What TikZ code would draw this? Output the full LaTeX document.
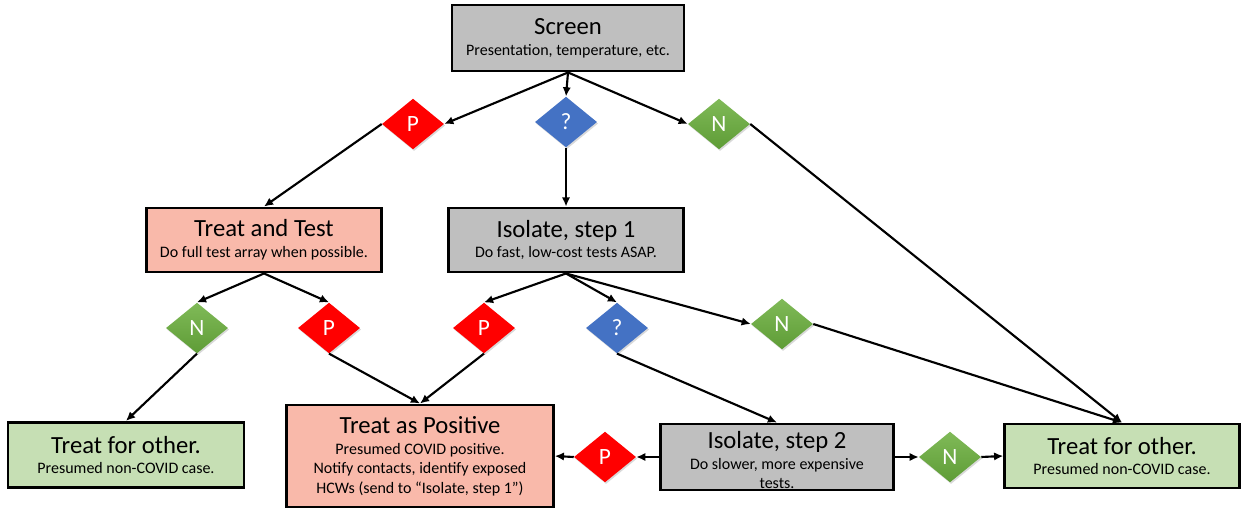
\documentclass[tikz,border=0pt]{standalone}
\usepackage{fontspec}
\setmainfont{Carlito}
\usepackage{xcolor}
\usepackage{tikz}
\usetikzlibrary{arrows.meta,positioning,shapes.geometric,shadows}
\definecolor{boxgray}{HTML}{BFBFBF}
\definecolor{boxsalmon}{HTML}{F9B9AA}
\definecolor{boxgreen}{HTML}{C6DFB4}
\definecolor{decred}{HTML}{FF0000}
\definecolor{decblue}{HTML}{4472C4}
\definecolor{decgreentop}{HTML}{80BA58}
\definecolor{decgreenbot}{HTML}{5E9C36}
\newcommand{\headtxt}[1]{{\fontsize{18.5}{21}\selectfont #1}\\[1pt]}

\begin{document}
\begin{tikzpicture}[x=0.75pt, y=-0.75pt,
    stepbox/.style={draw, line width=2.2pt, align=center, inner sep=1pt, font=\fontsize{12}{14.6}\selectfont},
    dec/.style={diamond, minimum width=46.5pt, minimum height=38pt, inner sep=0pt, text=white, font=\fontsize{17.5}{17.5}\selectfont, drop shadow={opacity=0.3, shadow xshift=0.8pt, shadow yshift=-1.2pt}},
    decp/.style={dec, fill=decred},
    decq/.style={dec, fill=decblue},
    decn/.style={dec, top color=decgreentop, bottom color=decgreenbot},
    flow/.style={line width=1.6pt, -{Latex[length=2.4mm, width=2.2mm]}}]
    \useasboundingbox (0,0) rectangle (1248,510);
    % boxes
    \node[stepbox, fill=boxgray, minimum width=174pt, minimum height=49.5pt] (screen) at (568,38) {\headtxt{Screen}Presentation, temperature, etc.};
    \node[stepbox, fill=boxsalmon, minimum width=176pt, minimum height=48pt] (treattest) at (264,240) {\headtxt{Treat and Test}Do full test array when possible.};
    \node[stepbox, fill=boxgray, minimum width=176pt, minimum height=48pt] (isoone) at (566,240) {\headtxt{Isolate, step 1}Do fast, low-cost tests ASAP.};
    \node[stepbox, fill=boxgreen, minimum width=177pt, minimum height=49pt] (otherleft) at (126,455) {\headtxt{Treat for other.}Presumed non-COVID case.};
    \node[stepbox, fill=boxsalmon, minimum width=200pt, minimum height=76.5pt] (treatpos) at (420,456) {\headtxt{Treat as Positive}Presumed COVID positive.\\Notify contacts, identify exposed\\HCWs (send to “Isolate, step 1”)};
    \node[stepbox, fill=boxgray, minimum width=175pt, minimum height=49.5pt] (isotwo) at (777,457) {};
    \node[align=center, font=\fontsize{12}{14.6}\selectfont] (isotwotext) at (777,460) {\headtxt{Isolate, step 2}Do slower, more expensive\\tests.};
    \node[stepbox, fill=boxgreen, minimum width=176pt, minimum height=48pt] (otherright) at (1122,456) {\headtxt{Treat for other.}Presumed non-COVID case.};
    % decisions
    \node[decp] (pone) at (413,124) {P};
    \node[decq] (qone) at (566,122) {?};
    \node[decn] (none) at (719,124) {N};
    \node[decn] (ntwo) at (197,328) {N};
    \node[decp] (ptwo) at (329,328) {P};
    \node[decp] (pthree) at (484,328) {P};
    \node[decq] (qtwo) at (617,328) {?};
    \node[decn] (nthree) at (782,324) {N};
    \node[decp] (pfour) at (605,457) {P};
    \node[decn] (nfour) at (950,457) {N};

    \draw[flow] (screen.south) -- (pone.east);
    \draw[flow] (screen.south) -- (qone.north);
    \draw[flow] (screen.south) -- (none.west);
    \draw[flow] (pone.west) -- (treattest.north);
    \draw[flow] (qone.south) -- (isoone.north);
    \draw[flow] (none.east) -- (otherright.north);
    \draw[flow] (treattest.south) -- (ntwo.north);
    \draw[flow] (treattest.south) -- (ptwo.north);
    \draw[flow] (ntwo.south) -- (otherleft.north);
    \draw[flow] (ptwo.south) -- (treatpos.north);
    \draw[flow] (isoone.south) -- (pthree.north);
    \draw[flow] (isoone.south) -- (qtwo.north);
    \draw[flow] (isoone.south) -- (nthree.west);
    \draw[flow] (pthree.south) -- (treatpos.north);
    \draw[flow] (qtwo.south) -- (isotwo.north);
    \draw[flow] (nthree.east) -- (otherright.north);
    \draw[flow] (isotwo.west) -- (pfour.east);
    \draw[flow] (pfour.west) -- (treatpos.east);
    \draw[flow] (isotwo.east) -- (nfour.west);
    \draw[flow] (nfour.east) -- (otherright.west);
\end{tikzpicture}
\end{document}
